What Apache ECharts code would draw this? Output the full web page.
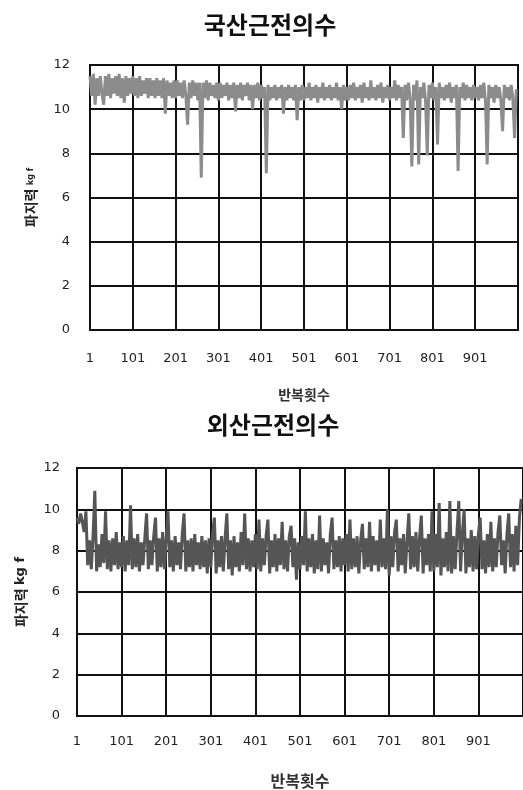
<!DOCTYPE html>
<html>
<head>
<meta charset="utf-8">
<title>파지력</title>
<script src="https://cdn.jsdelivr.net/npm/echarts@6/dist/echarts.min.js"></script>
<style>
  html, body { margin: 0; padding: 0; background: #fff; }
  #chart { width: 523px; height: 790px; }
</style>
</head>
<body>
<div id="chart"></div>
<script>
// force read every 4 repetitions: cycle 1, 5, 9, ... 997 (25 readings per 100 cycles)
var cycleStep = 4;
var yTicks = [0, 2, 4, 6, 8, 10, 12];

// 국산근전의수 (domestic)
var domesticForce = [
  11.5, 10.6, 11.6, 10.2, 11.4, 10.6, 11.5, 10.7, 10.2, 11.5, 10.6, 11.6, 10.5, 11.4, 10.7, 11.5, 10.6, 11.6, 10.5, 11.4, 10.3, 11.5, 10.6, 11.4, 10.7,
  11.5, 10.6, 11.4, 10.5, 11.5, 10.6, 11.3, 10.7, 11.4, 10.5, 11.4, 10.6, 11.3, 10.5, 11.4, 10.6, 11.3, 10.5, 11.4, 9.8, 11.3, 10.6, 11.2, 10.5, 11.3,
  10.5, 11.3, 10.6, 11.2, 10.5, 11.3, 10.6, 9.3, 11.2, 10.5, 11.3, 10.6, 11.2, 10.4, 11.2, 6.9, 11.2, 10.5, 11.3, 10.4, 11.2, 10.6, 11.1, 10.5, 11.2,
  10.4, 11.2, 10.5, 11.1, 10.6, 11.2, 10.4, 11.1, 10.5, 11.2, 9.9, 11.1, 10.5, 11.2, 10.4, 11.1, 10.6, 11.2, 10.4, 11.1, 10.0, 11.1, 10.5, 11.2, 10.4,
  11.1, 10.5, 11.0, 7.1, 11.1, 10.4, 11.0, 10.5, 11.1, 10.4, 11.0, 10.5, 11.1, 9.8, 11.0, 10.4, 11.1, 10.5, 11.0, 10.4, 11.1, 9.5, 11.0, 10.4, 11.1,
  10.4, 11.0, 10.5, 11.2, 10.4, 11.0, 10.5, 11.1, 10.3, 11.0, 10.5, 11.2, 10.4, 11.0, 10.5, 11.1, 10.4, 11.0, 10.5, 11.2, 10.4, 11.0, 10.0, 11.1, 10.4,
  11.0, 10.4, 11.1, 10.5, 11.2, 10.4, 11.0, 10.5, 11.1, 10.3, 11.2, 10.5, 11.0, 10.4, 11.3, 10.5, 11.0, 10.4, 11.1, 10.5, 11.2, 10.3, 11.0, 10.5, 11.1,
  10.4, 11.0, 10.5, 11.3, 10.4, 11.1, 10.5, 11.0, 8.7, 11.1, 10.4, 11.2, 10.5, 7.4, 11.1, 10.4, 11.3, 7.5, 11.0, 10.5, 11.2, 10.4, 7.9, 11.1, 10.5,
  11.2, 10.4, 11.0, 8.4, 11.2, 10.5, 11.0, 10.4, 11.1, 10.5, 11.2, 10.3, 11.0, 10.5, 11.1, 7.2, 11.0, 10.5, 11.2, 10.4, 11.1, 10.5, 11.0, 10.4, 11.1,
  10.5, 11.0, 10.4, 11.1, 10.5, 11.2, 10.4, 7.5, 11.1, 10.5, 11.0, 10.3, 11.1, 10.5, 11.0, 10.4, 9.0, 11.1, 10.5, 11.0, 10.4, 11.1, 10.5, 8.7, 10.9
];

// 외산근전의수 (imported)
var importedForce = [
  9.6, 9.3, 9.8, 9.4, 8.9, 9.9, 7.3, 8.5, 7.1, 8.7, 10.9, 7.0, 8.3, 7.2, 8.8, 7.4, 9.9, 7.1, 8.5, 7.0, 8.6, 7.3, 8.9, 7.1, 8.4,
  7.2, 8.7, 7.0, 8.5, 7.3, 10.2, 7.1, 8.6, 7.2, 8.8, 7.0, 8.4, 7.3, 8.6, 9.8, 7.1, 8.5, 7.3, 8.7, 9.6, 7.0, 8.6, 7.2, 8.9, 7.1,
  8.6, 9.9, 7.2, 8.5, 7.0, 8.7, 7.3, 8.4, 7.1, 8.8, 9.8, 7.0, 8.5, 7.2, 8.6, 7.0, 8.8, 7.3, 8.4, 7.1, 8.7, 7.2, 8.5, 6.9, 8.6,
  7.2, 8.8, 9.6, 6.9, 8.5, 7.2, 8.7, 7.0, 8.6, 9.8, 7.1, 8.5, 6.8, 8.7, 7.2, 8.4, 7.0, 8.9, 7.3, 9.8, 7.1, 8.6, 7.0, 8.5, 7.2,
  8.8, 7.1, 9.5, 7.0, 8.6, 7.3, 8.7, 9.5, 6.9, 8.5, 7.2, 8.8, 7.0, 8.6, 7.3, 9.4, 7.1, 8.5, 7.0, 8.7, 9.2, 7.2, 8.6, 6.6, 8.4,
  7.1, 8.7, 7.3, 9.9, 7.0, 8.6, 7.2, 8.8, 6.9, 8.5, 7.1, 9.7, 7.0, 8.6, 7.3, 8.4, 6.9, 8.8, 9.6, 7.1, 8.5, 7.2, 8.7, 7.0, 8.6,
  7.3, 8.8, 7.0, 9.5, 7.1, 8.6, 7.2, 8.7, 6.9, 8.5, 9.3, 7.1, 8.6, 7.2, 9.4, 7.0, 8.7, 7.3, 8.5, 7.0, 9.5, 7.2, 8.6, 7.1, 10.0,
  6.8, 8.7, 7.2, 8.9, 9.5, 7.0, 8.6, 7.3, 8.8, 6.9, 8.5, 9.8, 7.1, 8.7, 7.2, 8.9, 7.0, 8.6, 9.7, 6.9, 8.6, 7.3, 8.8, 7.0, 9.9,
  7.0, 8.8, 7.2, 10.3, 6.8, 8.6, 7.2, 8.9, 7.0, 10.4, 6.9, 8.7, 7.1, 8.9, 10.4, 7.0, 8.8, 10.0, 6.9, 8.6, 7.2, 9.0, 7.0, 8.7, 7.1,
  8.8, 9.6, 7.1, 8.5, 6.9, 8.8, 7.2, 9.4, 7.0, 8.6, 7.2, 8.9, 9.7, 7.3, 8.5, 6.9, 8.8, 9.8, 7.2, 8.8, 7.0, 9.2, 7.3, 9.6, 10.5
];

// x categories: repetition count 1..1001
var cycles = [];
for (var c = 1; c <= 1001; c++) cycles.push(String(c));

function toPoints(values) {
  return values.map(function (v, i) { return [i * cycleStep, v]; });
}

var font = '"Noto Sans CJK KR", "Noto Sans", sans-serif';
var numFont = '"DejaVu Sans", sans-serif';

function xAxisFor(gridIndex, labelMargin, nameSize, nameGap) {
  return {
    gridIndex: gridIndex,
    type: 'category',
    data: cycles,
    boundaryGap: false,
    name: '반복횟수',
    nameLocation: 'middle',
    nameGap: nameGap,
    nameTextStyle: { fontFamily: font, fontSize: nameSize, fontWeight: 'bold', color: '#333' },
    axisLine: { lineStyle: { color: '#111', width: 2 } },
    axisTick: { show: false },
    axisLabel: {
      interval: function (i) { return i % 100 === 0 && i < 1000; },
      margin: labelMargin,
      fontFamily: numFont, fontSize: 13, color: '#222'
    },
    splitLine: {
      show: true,
      interval: function (i) { return i % 100 === 0; },
      lineStyle: { color: '#111', width: 2 }
    }
  };
}

function yAxisFor(gridIndex, labelMargin, nameRich, nameGap) {
  return {
    gridIndex: gridIndex,
    type: 'value',
    min: yTicks[0],
    max: yTicks[yTicks.length - 1],
    interval: 2,
    name: '{a|파지력} {b|kg f}',
    nameLocation: 'middle',
    nameRotate: 90,
    nameGap: nameGap,
    nameTextStyle: { rich: nameRich },
    axisLine: { show: true, lineStyle: { color: '#111', width: 2 } },
    axisTick: { show: false },
    axisLabel: { margin: labelMargin, fontFamily: numFont, fontSize: 13, color: '#222' },
    splitLine: { show: true, lineStyle: { color: '#111', width: 2 } }
  };
}

var chart = echarts.init(document.getElementById('chart'));
chart.setOption({
  animation: false,
  backgroundColor: '#fff',
  title: [
    { text: '국산근전의수', left: 265, top: 8, textAlign: 'center',
      textStyle: { fontFamily: font, fontSize: 24, fontWeight: 'bold', color: '#111' } },
    { text: '외산근전의수', left: 268, top: 408, textAlign: 'center',
      textStyle: { fontFamily: font, fontSize: 24, fontWeight: 'bold', color: '#111' } }
  ],
  grid: [
    { left: 90, top: 65, width: 428, height: 265, show: true, borderColor: '#111', borderWidth: 2 },
    { left: 77, top: 468, width: 450, height: 249, show: true, borderColor: '#111', borderWidth: 2 }
  ],
  xAxis: [
    xAxisFor(0, 22, 14, 58),
    xAxisFor(1, 19, 16, 57)
  ],
  yAxis: [
    yAxisFor(0, 20, {
      a: { fontFamily: font, fontSize: 14, fontWeight: 'bold', color: '#222' },
      b: { fontFamily: numFont, fontSize: 8, fontWeight: 'bold', color: '#222' }
    }, 52),
    yAxisFor(1, 17, {
      a: { fontFamily: font, fontSize: 14, fontWeight: 'bold', color: '#222' },
      b: { fontFamily: numFont, fontSize: 13, fontWeight: 'bold', color: '#222' }
    }, 49)
  ],
  series: [
    { type: 'line', xAxisIndex: 0, yAxisIndex: 0, data: toPoints(domesticForce),
      symbol: 'none', lineStyle: { color: '#8c8c8c', width: 3 } },
    { type: 'line', xAxisIndex: 1, yAxisIndex: 1, data: toPoints(importedForce),
      symbol: 'none', lineStyle: { color: '#555', width: 3 } }
  ]
});
</script>
</body>
</html>
